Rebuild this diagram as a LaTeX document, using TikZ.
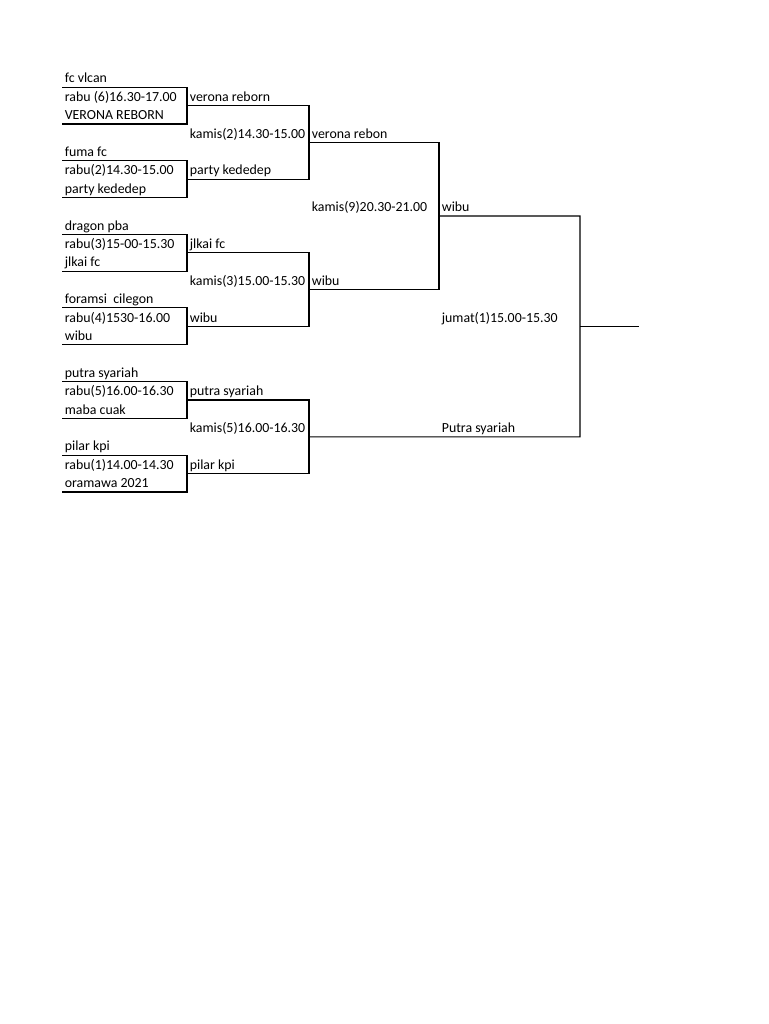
\documentclass[tikz,border=0pt]{standalone}
\usepackage{fontspec}
\setmainfont{Carlito}
\usetikzlibrary{fit}

\begin{document}
\begin{tikzpicture}[
  x=0.02cm, y=-0.02cm,
  cell/.style={anchor=base west, inner sep=0pt, font=\fontsize{7.9}{9}\selectfont},
  slot/.style={inner sep=0pt, outer sep=0pt},
  rule/.style={line width=0.6pt, black}
]
\useasboundingbox (0,0) rectangle (768,1024);

% rabu slots and bracket frames
\node[slot, fit={(62,87.2) (187,124)}] (g1) {};
\node[slot, fit={(62,160.8) (187,197.6)}] (g2) {};
\node[slot, fit={(62,234.4) (187,271.2)}] (g3) {};
\node[slot, fit={(62,307.6) (187,344.4)}] (g4) {};
\node[slot, fit={(62,381.6) (187,418.4)}] (g5) {};
\node[slot, fit={(62,455.2) (187,492)}] (g6) {};
\node[slot, fit={(187,105.6) (309,179.2)}] (q1) {};
\node[slot, fit={(187,252.8) (309,326.4)}] (q2) {};
\node[slot, fit={(187,400) (309,473.6)}] (q3) {};
\node[slot, fit={(309,142.4) (439,289.6)}] (s1) {};
\node[slot, fit={(439,216) (580,436.8)}] (final) {};
\coordinate (champ) at (639,326.4);

% rabu
\node[cell] (vlcan) at (64.5,82.9) {fc vlcan};
\node[cell] (rabu6) at (64.5,101.3) {rabu (6)16.30-17.00};
\node[cell] (verona) at (64.5,119.7) {VERONA REBORN};
\node[cell] (fuma) at (64.5,156.5) {fuma fc};
\node[cell] (rabu2) at (64.5,174.9) {rabu(2)14.30-15.00};
\node[cell] (party) at (64.5,193.3) {party kededep};
\node[cell] (dragon) at (64.5,230.1) {dragon pba};
\node[cell] (rabu3) at (64.5,248.5) {rabu(3)15-00-15.30};
\node[cell] (jlkai) at (64.5,266.9) {jlkai fc};
\node[cell] (foramsi) at (64.5,303.7) {foramsi\ \ cilegon};
\node[cell] (rabu4) at (64.5,322.1) {rabu(4)1530-16.00};
\node[cell] (wibu) at (64.5,340.5) {wibu};
\node[cell] (putra) at (64.5,377.3) {putra syariah};
\node[cell] (rabu5) at (64.5,395.7) {rabu(5)16.00-16.30};
\node[cell] (maba) at (64.5,414.1) {maba cuak};
\node[cell] (pilar) at (64.5,450.9) {pilar kpi};
\node[cell] (rabu1) at (64.5,469.3) {rabu(1)14.00-14.30};
\node[cell] (oramawa) at (64.5,487.7) {oramawa 2021};

% kamis
\node[cell] (winA) at (189.5,101.3) {verona reborn};
\node[cell] (kamis2) at (189.5,138.1) {kamis(2)14.30-15.00};
\node[cell] (winB) at (189.5,174.9) {party kededep};
\node[cell] (winC) at (189.5,248.5) {jlkai fc};
\node[cell] (kamis3) at (189.5,285.3) {kamis(3)15.00-15.30};
\node[cell] (winD) at (189.5,322.1) {wibu};
\node[cell] (winE) at (189.5,395.7) {putra syariah};
\node[cell] (kamis5) at (189.5,432.5) {kamis(5)16.00-16.30};
\node[cell] (winF) at (189.5,469.3) {pilar kpi};

% semifinal
\node[cell] (semiA) at (311.5,138.1) {verona rebon};
\node[cell] (kamis9) at (311.5,211.7) {kamis(9)20.30-21.00};
\node[cell] (semiB) at (311.5,285.3) {wibu};

% final
\node[cell] (finA) at (441.5,211.7) {wibu};
\node[cell] (jumat1) at (441.5,322.1) {jumat(1)15.00-15.30};
\node[cell] (finB) at (441.5,432.5) {Putra syariah};

\foreach \b in {g1,g2,g3,g4,g5,g6,q1,q2,q3,s1}
  \draw[rule] (\b.north west) -| (\b.south east) -- (\b.south west);
\draw[rule] (final.north west) -| (final.south east) -- (q3.east);
\draw[rule] (final.east) -- (champ);
\end{tikzpicture}
\end{document}
